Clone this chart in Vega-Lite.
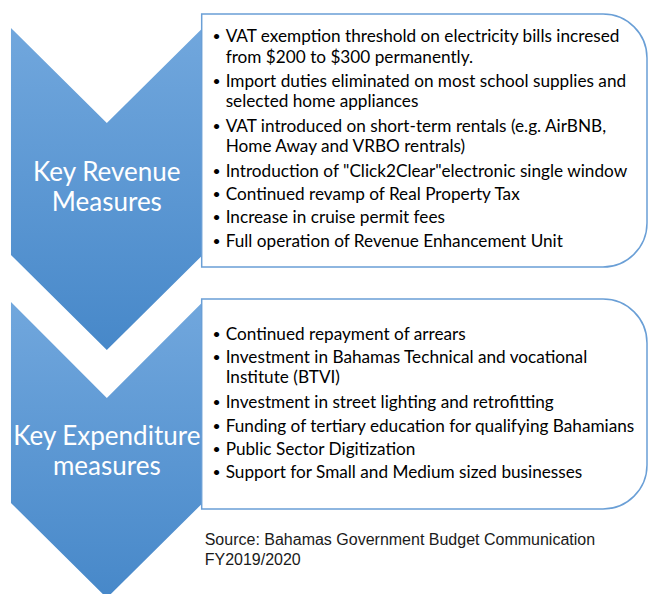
{
  "$schema": "https://vega.github.io/schema/vega-lite/v6.json",
  "width": 648,
  "height": 594,
  "padding": 0,
  "autosize": {"type": "fit", "contains": "padding"},
  "background": "white",
  "config": {"view": {"stroke": null}},
  "datasets": {
    "chev": [
      {"id": "rev", "x": 11, "top": 28, "bottom": 255},
      {"id": "rev", "x": 107, "top": 123, "bottom": 350},
      {"id": "rev", "x": 203, "top": 28, "bottom": 255},
      {"id": "exp", "x": 11, "top": 302, "bottom": 503},
      {"id": "exp", "x": 107, "top": 398, "bottom": 598},
      {"id": "exp", "x": 203, "top": 302, "bottom": 503}
    ],
    "boxes": [
      {"id": "rev", "x": 202, "x2": 648, "y": 14, "y2": 267},
      {"id": "exp", "x": 202, "x2": 648, "y": 299, "y2": 509}
    ],
    "lines": [
      {"grp": "item", "x": 226, "y": 37, "bullet": true, "text": "VAT exemption threshold on electricity bills incresed"},
      {"grp": "item", "x": 226, "y": 58, "bullet": false, "text": "from $200 to $300 permanently."},
      {"grp": "item", "x": 226, "y": 82, "bullet": true, "text": "Import duties eliminated on  most school supplies and"},
      {"grp": "item", "x": 226, "y": 102, "bullet": false, "text": "selected home appliances"},
      {"grp": "item", "x": 226, "y": 127, "bullet": true, "text": "VAT introduced on short-term rentals (e.g. AirBNB,"},
      {"grp": "item", "x": 226, "y": 147, "bullet": false, "text": "Home Away and VRBO rentrals)"},
      {"grp": "item", "x": 226, "y": 172, "bullet": true, "text": "Introduction of \"Click2Clear\"electronic single window"},
      {"grp": "item", "x": 226, "y": 195, "bullet": true, "text": "Continued revamp of Real Property Tax"},
      {"grp": "item", "x": 226, "y": 218, "bullet": true, "text": "Increase in cruise permit fees"},
      {"grp": "item", "x": 226, "y": 242, "bullet": true, "text": "Full operation of Revenue Enhancement Unit"},
      {"grp": "item", "x": 226, "y": 335, "bullet": true, "text": "Continued repayment of arrears"},
      {"grp": "item", "x": 226, "y": 358, "bullet": true, "text": "Investment in Bahamas Technical and vocational"},
      {"grp": "item", "x": 226, "y": 378, "bullet": false, "text": "Institute (BTVI)"},
      {"grp": "item", "x": 226, "y": 403, "bullet": true, "text": "Investment in street lighting and retrofitting"},
      {"grp": "item", "x": 226, "y": 427, "bullet": true, "text": "Funding of tertiary education for qualifying Bahamians"},
      {"grp": "item", "x": 226, "y": 450, "bullet": true, "text": "Public Sector Digitization"},
      {"grp": "item", "x": 226, "y": 473, "bullet": true, "text": "Support for Small and Medium sized businesses"},
      {"grp": "label", "x": 107, "y": 173, "bullet": false, "text": "Key Revenue"},
      {"grp": "label", "x": 107, "y": 203, "bullet": false, "text": "Measures"},
      {"grp": "label", "x": 107, "y": 437, "bullet": false, "text": "Key Expenditure"},
      {"grp": "label", "x": 107, "y": 467, "bullet": false, "text": "measures"},
      {"grp": "source", "x": 205, "y": 540, "bullet": false, "text": "Source: Bahamas Government Budget Communication"},
      {"grp": "source", "x": 205, "y": 560, "bullet": false, "text": "FY2019/2020"}
    ]
  },
  "encoding": {
    "x": {"type": "quantitative", "scale": {"domain": [0, 648], "nice": false, "zero": false}, "axis": null},
    "y": {"type": "quantitative", "scale": {"domain": [0, 594], "nice": false, "zero": false, "reverse": true}, "axis": null}
  },
  "layer": [
    {
      "data": {"name": "chev"},
      "mark": {
        "type": "area",
        "clip": true,
        "fill": {"gradient": "linear", "x1": 0, "y1": 0, "x2": 0, "y2": 1,
          "stops": [{"offset": 0, "color": "#71a7dd"}, {"offset": 1, "color": "#4788c9"}]}
      },
      "encoding": {
        "x": {"field": "x", "type": "quantitative"},
        "y": {"field": "top", "type": "quantitative"},
        "y2": {"field": "bottom"},
        "detail": {"field": "id"}
      }
    },
    {
      "data": {"name": "boxes"},
      "mark": {"type": "rect", "fill": "white", "stroke": "#6a9fd6", "strokeWidth": 1.5,
        "cornerRadiusTopRight": 44, "cornerRadiusBottomRight": 44},
      "encoding": {
        "x": {"field": "x", "type": "quantitative"},
        "x2": {"field": "x2"},
        "y": {"field": "y", "type": "quantitative"},
        "y2": {"field": "y2"}
      }
    },
    {
      "data": {"name": "lines"},
      "transform": [{"filter": "datum.grp == 'item'"}],
      "mark": {"type": "text", "align": "left", "baseline": "middle", "font": "Lato", "fontSize": 17.2, "color": "black"},
      "encoding": {
        "x": {"field": "x", "type": "quantitative"},
        "y": {"field": "y", "type": "quantitative"},
        "text": {"field": "text"}
      }
    },
    {
      "data": {"name": "lines"},
      "transform": [{"filter": "datum.grp == 'item' && datum.bullet"}],
      "mark": {"type": "text", "align": "center", "baseline": "middle", "font": "Lato", "fontSize": 14, "color": "black", "dx": -9},
      "encoding": {
        "x": {"field": "x", "type": "quantitative"},
        "y": {"field": "y", "type": "quantitative"},
        "text": {"value": "•"}
      }
    },
    {
      "data": {"name": "lines"},
      "transform": [{"filter": "datum.grp == 'label'"}],
      "mark": {"type": "text", "align": "center", "baseline": "middle", "font": "Lato", "fontSize": 26, "color": "white"},
      "encoding": {
        "x": {"field": "x", "type": "quantitative"},
        "y": {"field": "y", "type": "quantitative"},
        "text": {"field": "text"}
      }
    },
    {
      "data": {"name": "lines"},
      "transform": [{"filter": "datum.grp == 'source'"}],
      "mark": {"type": "text", "align": "left", "baseline": "middle", "font": "Liberation Sans", "fontSize": 16, "color": "#1a1a1a"},
      "encoding": {
        "x": {"field": "x", "type": "quantitative"},
        "y": {"field": "y", "type": "quantitative"},
        "text": {"field": "text"}
      }
    }
  ]
}
